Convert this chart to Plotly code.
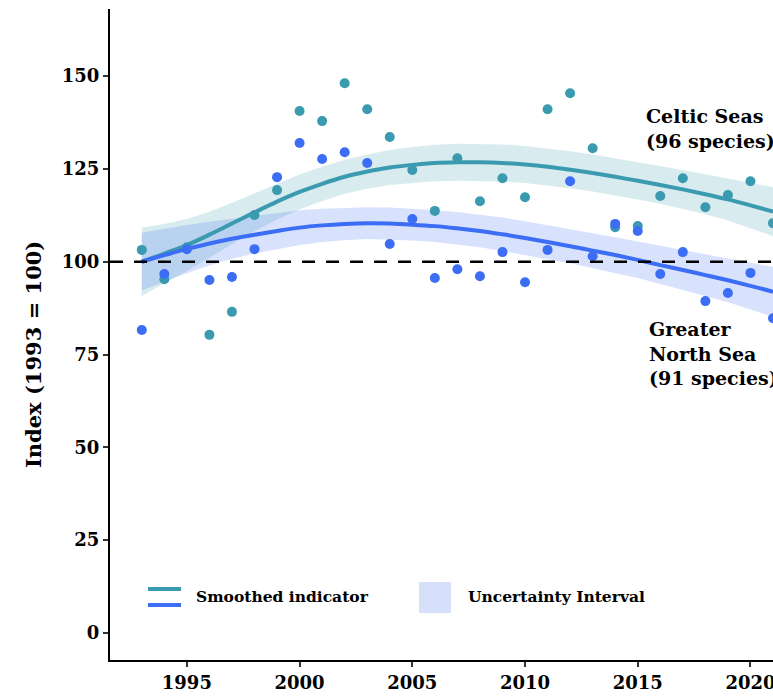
import plotly.graph_objects as go

years = list(range(1993, 2022))

celtic_points = [103.2, 95.3, 103.9, 80.3, 86.5, 112.6, 119.3, 140.6, 137.9, 148.1,
                 141.1, 133.6, 124.7, 113.7, 127.9, 116.3, 122.5, 117.4, 141.1, 145.4,
                 130.6, 109.3, 109.6, 117.7, 122.5, 114.7, 118.0, 121.7, 110.4]
gns_points = [81.6, 96.7, 103.4, 95.1, 95.9, 103.4, 122.8, 132.0, 127.7, 129.5,
              126.6, 104.8, 111.5, 95.6, 98.0, 96.1, 102.6, 94.5, 103.2, 121.7,
              101.5, 110.2, 108.3, 96.7, 102.6, 89.4, 91.6, 97.0, 84.8]

celtic_smooth = [100.0, 102.2, 104.5, 107.3, 110.3, 113.3, 116.2, 118.8, 121.0, 122.9,
                 124.3, 125.4, 126.1, 126.6, 126.8, 126.8, 126.6, 126.2, 125.6, 124.8,
                 123.9, 122.9, 121.8, 120.7, 119.5, 118.2, 116.8, 115.2, 113.5]
celtic_upper = [109.2, 110.2, 111.5, 113.5, 115.9, 118.4, 121.0, 123.5, 125.6, 127.5,
                128.9, 130.1, 130.9, 131.5, 131.8, 131.8, 131.6, 131.2, 130.6, 129.8,
                128.9, 127.9, 126.8, 125.8, 124.7, 123.6, 122.5, 121.3, 120.1]
celtic_lower = [90.8, 94.2, 97.5, 101.1, 104.7, 108.2, 111.4, 114.1, 116.4, 118.3,
                119.7, 120.7, 121.3, 121.7, 121.8, 121.8, 121.6, 121.2, 120.6, 119.8,
                118.9, 117.9, 116.8, 115.6, 114.3, 112.8, 111.1, 109.1, 106.9]

gns_smooth = [100.0, 101.8, 103.4, 104.9, 106.2, 107.3, 108.3, 109.2, 109.8, 110.2,
              110.4, 110.3, 110.0, 109.6, 109.0, 108.3, 107.4, 106.4, 105.3, 104.2,
              103.0, 101.8, 100.5, 99.1, 97.8, 96.4, 95.0, 93.5, 91.9]
gns_upper = [107.8, 108.9, 109.9, 110.8, 111.6, 112.4, 113.2, 113.9, 114.3, 114.6,
             114.7, 114.6, 114.3, 113.9, 113.4, 112.7, 111.9, 110.9, 109.9, 108.8,
             107.7, 106.6, 105.4, 104.2, 103.1, 102.0, 100.9, 99.8, 98.6]
gns_lower = [92.2, 94.7, 96.9, 99.0, 100.8, 102.2, 103.4, 104.5, 105.3, 105.8,
             106.1, 106.0, 105.7, 105.3, 104.6, 103.9, 102.9, 101.9, 100.7, 99.6,
             98.3, 97.0, 95.6, 94.0, 92.5, 90.8, 89.1, 87.2, 85.2]

x_ticks = [1995, 2000, 2005, 2010, 2015, 2020]
y_ticks = [0, 25, 50, 75, 100, 125, 150]
baseline = 100

TEAL = "#3A9AB0"
BLUE = "#3C6DF5"
TEAL_BAND = "rgba(58,155,176,0.2)"
BLUE_BAND = "rgba(61,110,247,0.2)"
FONT = "DejaVu Serif"

fig = go.Figure()

def band(upper, lower, color):
    fig.add_trace(go.Scatter(x=years + years[::-1], y=upper + lower[::-1],
                             fill="toself", fillcolor=color, line=dict(width=0),
                             mode="lines", hoverinfo="skip", showlegend=False))

band(celtic_upper, celtic_lower, TEAL_BAND)
band(gns_upper, gns_lower, BLUE_BAND)

fig.add_trace(go.Scatter(x=years, y=celtic_smooth, mode="lines",
                         line=dict(color=TEAL, width=4, shape="spline"), showlegend=False))
fig.add_trace(go.Scatter(x=years, y=gns_smooth, mode="lines",
                         line=dict(color=BLUE, width=4, shape="spline"), showlegend=False))

fig.add_trace(go.Scatter(x=years, y=celtic_points, mode="markers",
                         marker=dict(color=TEAL, size=10), showlegend=False))
fig.add_trace(go.Scatter(x=years, y=gns_points, mode="markers",
                         marker=dict(color=BLUE, size=10), showlegend=False))

# reference line at index 100
fig.add_shape(type="line", xref="paper", x0=0, x1=1, yref="y", y0=baseline, y1=baseline,
              line=dict(color="black", width=2.5, dash="13px,11px"))

# legend drawn manually (two stacked line keys + band key)
fig.add_shape(type="line", xref="paper", yref="paper", x0=0.0573, x1=0.1071, y0=0.1091, y1=0.1091,
              line=dict(color=TEAL, width=4))
fig.add_shape(type="line", xref="paper", yref="paper", x0=0.0573, x1=0.1071, y0=0.0845, y1=0.0845,
              line=dict(color=BLUE, width=4))
fig.add_shape(type="rect", xref="paper", yref="paper", x0=0.4661, x1=0.5143, y0=0.0722, y1=0.1198,
              line=dict(width=0), fillcolor="#D6E0FA")

bold = dict(family=FONT, color="black", weight="bold")
fig.add_annotation(xref="paper", yref="paper", x=0.1267, y=0.0968, xanchor="left", yanchor="middle",
                   text="Smoothed indicator", showarrow=False, font=dict(size=15.5, **bold))
fig.add_annotation(xref="paper", yref="paper", x=0.5369, y=0.0968, xanchor="left", yanchor="middle",
                   text="Uncertainty Interval", showarrow=False, font=dict(size=15.5, **bold))

fig.add_annotation(xref="paper", yref="paper", x=0.805, y=0.8164, xanchor="left", yanchor="middle",
                   align="left", text="Celtic Seas<br>(96 species)", showarrow=False,
                   font=dict(size=19, **bold))
fig.add_annotation(xref="paper", yref="paper", x=0.8095, y=0.4708, xanchor="left", yanchor="middle",
                   align="left", text="Greater<br>North Sea<br>(91 species)", showarrow=False,
                   font=dict(size=19, **bold))

fig.add_annotation(xref="paper", yref="paper", x=-0.1161, y=0.4685, xanchor="center", yanchor="middle",
                   text="Index (1993 = 100)", textangle=-90, showarrow=False,
                   font=dict(size=21, **bold))

axis_common = dict(showgrid=False, zeroline=False, showline=True, linecolor="black", linewidth=2,
                   ticks="outside", ticklen=5, tickwidth=1.5, tickcolor="#333",
                   tickfont=dict(size=18, **bold), automargin=False,
                   ticklabeloverflow="allow")

fig.update_layout(
    width=773, height=697,
    margin=dict(l=110, r=0, t=9, b=37),
    paper_bgcolor="white", plot_bgcolor="white",
    xaxis=dict(range=[1991.59, 2021.0], tickvals=x_ticks, **axis_common),
    yaxis=dict(range=[-7.3, 168.1], tickvals=y_ticks, **axis_common),
    showlegend=False,
)

# remove the default page margin so the 773x697 figure fills the window exactly
fig.write_html("out.html", config={"displayModeBar": False},
               post_script="document.body.style.margin='0';document.body.style.overflow='hidden';")
